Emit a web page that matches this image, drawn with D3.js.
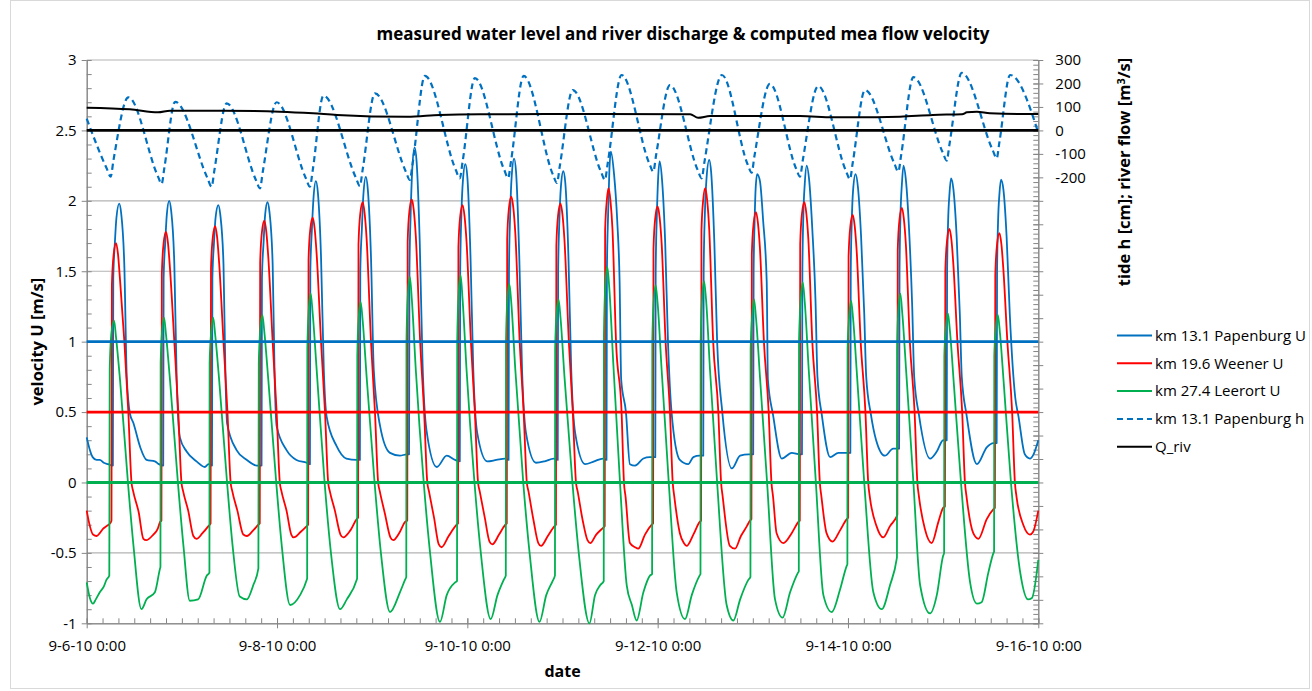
<!DOCTYPE html>
<html>
<head>
<meta charset="utf-8">
<script src="https://cdn.jsdelivr.net/npm/d3@7"></script>
<style>
  body { margin: 0; background: #fff; }
  text { font-family: "Open Sans", sans-serif; fill: #000; }
</style>
</head>
<body>
<svg id="chart" width="1312" height="691"></svg>
<script>
// time axis: hours after 9-6-10 0:00
const startDate = Date.UTC(2010, 8, 6);
const dateTicks = [0, 48, 96, 144, 192, 240];
const leftTicks = [-1, -0.5, 0, 0.5, 1, 1.5, 2, 2.5, 3];
const rightTicks = [-200, -100, 0, 100, 200, 300];
const seriesNames = ['km 13.1 Papenburg U', 'km 19.6 Weener U', 'km 27.4 Leerort U', 'km 13.1 Papenburg h', 'Q_riv'];

// reference levels drawn across the plot
const papRef = 1, weenRef = 0.5, leerRef = 0, qRef = 0;

// velocity U [m/s], [hour, value]
const papU = [
  [0,0.32],[0.8,0.23],[1.5,0.18],[2.5,0.16],[3.3,0.16],[4.3,0.14],[5.4,0.13],[6.6,0.12],
  [6.7,1.45],[7.1,1.7],[7.5,1.88],[8.2,1.98],[8.7,1.91],[9.5,1.53],[10.1,0.75],[10.9,0.49],[11.8,0.42],[13.5,0.25],[15.1,0.16],[17.2,0.15],[18.2,0.13],[19.3,0.12],
  [19.4,1.45],[19.8,1.7],[20.2,1.9],[20.8,2.0],[21.3,1.93],[22.1,1.55],[22.7,0.73],[23.5,0.32],[25.2,0.22],[27.7,0.15],[29.8,0.11],[30.7,0.13],[31.6,0.12],
  [31.7,1.45],[32.1,1.7],[32.5,1.88],[33.2,1.97],[33.7,1.9],[34.5,1.55],[35.0,0.75],[35.4,0.42],[37.8,0.23],[40.4,0.16],[42.9,0.12],[44.1,0.12],
  [44.2,1.45],[44.6,1.7],[45.0,1.9],[45.6,1.99],[46.1,1.92],[46.9,1.55],[47.4,0.75],[47.9,0.4],[50.4,0.23],[52.9,0.16],[55.5,0.14],[56.3,0.13],
  [56.4,1.5],[56.8,1.8],[57.2,2.02],[57.8,2.14],[58.3,2.06],[59.1,1.6],[59.8,0.8],[60.5,0.47],[63.0,0.26],[65.5,0.17],[68.1,0.16],[68.9,0.16],
  [69.0,1.5],[69.4,1.8],[69.8,2.05],[70.4,2.17],[70.9,2.08],[71.7,1.6],[72.4,0.8],[74.0,0.4],[76.5,0.21],[79.0,0.19],[80.7,0.2],[81.3,0.2],
  [81.4,1.5],[81.7,1.9],[82.1,2.22],[82.7,2.38],[83.2,2.28],[84.0,1.7],[84.7,0.85],[85.7,0.37],[88.3,0.11],[90.8,0.19],[92.9,0.16],[94.1,0.15],
  [94.2,1.5],[94.5,1.9],[94.9,2.15],[95.5,2.26],[96.0,2.17],[96.8,1.6],[97.5,0.8],[98.5,0.35],[101.0,0.15],[103.3,0.16],[105.5,0.17],[106.4,0.16],
  [106.5,1.5],[106.8,1.9],[107.2,2.18],[107.8,2.3],[108.3,2.2],[109.1,1.6],[109.8,0.8],[110.8,0.35],[113.3,0.14],[115.5,0.15],[117.8,0.17],[118.8,0.16],
  [118.9,1.5],[119.2,1.85],[119.6,2.1],[120.2,2.21],[120.7,2.13],[121.5,1.6],[122.2,0.8],[123.2,0.35],[125.7,0.13],[128.0,0.15],[130.2,0.17],[131.1,0.16],
  [131.2,1.5],[131.5,1.9],[131.8,2.2],[132.2,2.35],[133.0,2.19],[133.8,1.86],[134.4,1.43],[134.8,0.73],[136.0,0.5],[137.0,0.13],[138.3,0.12],[140.4,0.17],[142.0,0.18],[143.4,0.18],
  [143.5,1.5],[143.8,1.9],[144.1,2.15],[144.5,2.28],[145.1,2.15],[145.9,1.7],[146.6,1.0],[147.5,0.5],[149.6,0.16],[151.7,0.13],[153.0,0.18],[154.6,0.19],[155.5,0.19],
  [155.6,1.5],[155.9,1.9],[156.3,2.15],[157.0,2.29],[157.5,2.2],[158.3,1.7],[159.0,1.0],[160.3,0.5],[162.7,0.1],[164.8,0.19],[166.9,0.2],[168.1,0.2],
  [168.2,1.5],[168.45,1.85],[168.7,2.08],[169.1,2.19],[169.8,2.14],[170.6,1.86],[171.5,1.43],[171.8,0.73],[173.1,0.48],[175.3,0.17],[177.8,0.21],[179.9,0.2],[180.4,0.2],
  [180.5,1.5],[180.75,1.9],[181.1,2.12],[181.6,2.25],[182.2,2.15],[183.0,1.8],[183.8,1.3],[184.3,0.75],[185.4,0.48],[187.5,0.18],[189.6,0.21],[191.7,0.21],[192.6,0.21],
  [192.7,1.5],[192.95,1.85],[193.3,2.08],[193.9,2.19],[194.5,2.1],[195.3,1.75],[196.1,1.2],[196.6,0.75],[197.8,0.48],[199.1,0.3],[201.3,0.19],[203.4,0.24],[204.9,0.24],
  [205.0,1.5],[205.25,1.9],[205.6,2.12],[206.0,2.25],[206.6,2.15],[207.4,1.8],[208.2,1.25],[208.7,0.75],[209.9,0.48],[212.7,0.17],[214.4,0.22],[216.0,0.3],[216.9,0.3],
  [217.0,1.5],[217.25,1.85],[217.6,2.05],[218.0,2.16],[218.6,2.08],[219.4,1.75],[220.2,1.2],[220.7,0.75],[221.9,0.48],[224.5,0.13],[227.0,0.25],[228.7,0.28],[229.5,0.28],
  [229.6,1.5],[229.85,1.85],[230.2,2.05],[230.6,2.15],[231.2,2.08],[232.0,1.75],[232.8,1.2],[234.2,0.6],[235.0,0.47],[236.6,0.2],[237.9,0.17],[238.8,0.2],[240,0.3]
];

const weenU = [
  [0,-0.2],[0.8,-0.31],[1.6,-0.37],[2.5,-0.38],[3.3,-0.36],[4.1,-0.33],[5.0,-0.31],[5.9,-0.29],[6.25,-0.27],
  [6.35,1.4],[6.8,1.62],[7.4,1.7],[7.9,1.62],[8.4,1.44],[9.5,1.0],[10.5,0.5],[11.3,0.0],[11.7,-0.06],[13.1,-0.21],[14.3,-0.4],[15.0,-0.41],[16.8,-0.37],[17.9,-0.33],[18.5,-0.28],[18.85,-0.27],
  [18.95,1.48],[19.4,1.7],[20.0,1.78],[20.5,1.7],[21.0,1.52],[22.1,1.0],[23.1,0.5],[23.9,0.0],[24.3,-0.06],[25.6,-0.2],[26.9,-0.38],[27.7,-0.4],[29.2,-0.36],[30.7,-0.31],[31.25,-0.29],
  [31.35,1.52],[31.8,1.74],[32.4,1.82],[32.9,1.74],[33.4,1.56],[34.5,1.0],[35.5,0.5],[36.3,0.0],[36.7,-0.06],[38.0,-0.2],[39.5,-0.37],[40.4,-0.38],[42.0,-0.34],[43.3,-0.3],[43.65,-0.29],
  [43.75,1.56],[44.2,1.78],[44.8,1.86],[45.3,1.78],[45.8,1.6],[46.9,1.0],[47.9,0.5],[48.7,0.0],[49.1,-0.06],[50.4,-0.2],[51.6,-0.37],[52.2,-0.39],[54.0,-0.35],[55.5,-0.31],[55.85,-0.3],
  [55.95,1.58],[56.4,1.8],[57.0,1.88],[57.5,1.8],[58.0,1.62],[59.1,1.0],[60.1,0.5],[60.9,0.0],[61.3,-0.06],[62.6,-0.2],[64.0,-0.37],[64.7,-0.39],[66.5,-0.34],[68.1,-0.26],[68.45,-0.25],
  [68.55,1.69],[69.0,1.91],[69.6,1.99],[70.1,1.91],[70.6,1.73],[71.7,1.0],[72.7,0.5],[73.5,0.0],[73.9,-0.06],[75.2,-0.22],[76.6,-0.39],[77.3,-0.41],[79.0,-0.35],[80.3,-0.28],[80.85,-0.27],
  [80.95,1.71],[81.4,1.93],[82.0,2.01],[82.5,1.93],[83.0,1.75],[84.1,1.0],[85.1,0.5],[85.9,0.0],[86.3,-0.06],[87.6,-0.25],[88.8,-0.44],[89.5,-0.46],[91.3,-0.38],[93.3,-0.3],[93.65,-0.29],
  [93.75,1.67],[94.2,1.89],[94.8,1.97],[95.3,1.89],[95.8,1.71],[96.9,1.0],[97.9,0.5],[98.7,0.0],[99.1,-0.06],[100.4,-0.25],[101.6,-0.42],[102.3,-0.44],[104.0,-0.37],[105.6,-0.3],[105.95,-0.29],
  [106.05,1.73],[106.5,1.95],[107.1,2.03],[107.6,1.95],[108.1,1.77],[109.2,1.0],[110.2,0.5],[111.0,0.0],[111.4,-0.06],[112.7,-0.27],[113.9,-0.43],[114.6,-0.45],[116.3,-0.38],[118.0,-0.31],[118.35,-0.3],
  [118.45,1.68],[118.9,1.9],[119.5,1.98],[120.0,1.9],[120.5,1.72],[121.6,1.0],[122.6,0.5],[123.4,0.0],[123.8,-0.06],[125.1,-0.27],[126.3,-0.41],[127.0,-0.43],[128.5,-0.37],[130.3,-0.32],[130.65,-0.31],
  [130.75,1.79],[131.2,2.01],[131.6,2.09],[132.1,2.0],[132.6,1.8],[133.5,1.0],[134.9,0.5],[135.5,0.0],[135.9,-0.1],[137.0,-0.43],[138.3,-0.46],[139.1,-0.47],[140.8,-0.37],[142.5,-0.3],[142.85,-0.29],
  [142.95,1.66],[143.4,1.88],[144.0,1.96],[144.5,1.88],[145.0,1.7],[146.0,1.0],[147.1,0.5],[147.8,0.0],[148.2,-0.1],[149.6,-0.36],[150.6,-0.43],[151.3,-0.45],[153.0,-0.37],[154.6,-0.28],[154.95,-0.27],
  [155.05,1.79],[155.5,2.01],[156.0,2.09],[156.5,2.0],[157.0,1.8],[158.0,1.0],[159.3,0.5],[160.0,0.0],[160.4,-0.1],[162.2,-0.45],[163.5,-0.47],[165.0,-0.38],[166.5,-0.31],[167.3,-0.27],[167.65,-0.26],
  [167.75,1.62],[168.2,1.84],[168.8,1.92],[169.3,1.84],[169.8,1.66],[170.8,1.0],[172.0,0.5],[172.7,0.0],[173.1,-0.1],[174.0,-0.36],[175.7,-0.43],[177.8,-0.36],[179.5,-0.28],[179.85,-0.27],
  [179.95,1.69],[180.4,1.91],[181.0,1.99],[181.5,1.91],[182.0,1.73],[183.0,1.0],[184.2,0.5],[184.9,0.0],[185.3,-0.1],[186.6,-0.36],[188.1,-0.42],[190.0,-0.34],[191.7,-0.26],[192.05,-0.25],
  [192.15,1.6],[192.6,1.82],[193.2,1.9],[193.7,1.82],[194.2,1.64],[195.2,1.0],[196.4,0.5],[197.1,0.0],[197.5,-0.1],[199.2,-0.31],[200.9,-0.39],[202.6,-0.31],[204.3,-0.24],[204.45,-0.23],
  [204.55,1.65],[205.0,1.87],[205.6,1.95],[206.1,1.87],[206.6,1.69],[207.6,1.0],[208.8,0.5],[209.5,0.0],[209.9,-0.1],[211.4,-0.33],[213.1,-0.43],[214.8,-0.28],[216.0,-0.18],[216.45,-0.17],
  [216.55,1.5],[217.0,1.72],[217.6,1.8],[218.1,1.72],[218.6,1.54],[219.6,1.0],[220.8,0.5],[221.5,0.0],[221.9,-0.1],[223.6,-0.36],[224.9,-0.4],[227.0,-0.26],[228.7,-0.19],[229.05,-0.18],
  [229.15,1.47],[229.6,1.69],[230.2,1.77],[230.7,1.69],[231.2,1.51],[232.2,1.0],[233.4,0.5],[234.1,0.0],[234.5,-0.1],[236.2,-0.3],[237.9,-0.37],[238.7,-0.35],[240,-0.2]
];

const leerU = [
  [0,-0.71],[0.8,-0.82],[1.6,-0.86],[2.3,-0.83],[3.3,-0.78],[4.3,-0.74],[5.0,-0.69],[5.7,-0.66],
  [5.8,0.8],[6.2,1.05],[6.9,1.15],[7.4,1.03],[8.4,0.73],[10.4,0.0],[11.8,-0.45],[13.8,-0.9],[15.1,-0.83],[17.2,-0.78],[18.5,-0.61],[18.6,-0.6],
  [18.65,0.85],[19.0,1.07],[19.5,1.17],[20.0,1.05],[21.0,0.73],[23.0,0.0],[24.4,-0.45],[26.0,-0.84],[28.1,-0.83],[30.3,-0.66],[30.95,-0.64],
  [31.0,0.85],[31.4,1.07],[31.9,1.17],[32.4,1.05],[33.4,0.73],[35.4,0.0],[36.8,-0.45],[38.6,-0.81],[40.4,-0.83],[42.0,-0.73],[43.3,-0.61],
  [43.4,0.85],[43.8,1.09],[44.3,1.19],[44.8,1.07],[45.8,0.73],[47.8,0.0],[49.2,-0.45],[51.3,-0.87],[53.8,-0.8],[55.5,-0.69],[55.6,-0.68],
  [55.65,0.95],[56.0,1.22],[56.5,1.34],[57.0,1.2],[58.0,0.8],[60.0,0.0],[61.6,-0.5],[63.9,-0.9],[65.6,-0.83],[68.1,-0.69],[68.2,-0.68],
  [68.25,0.9],[68.6,1.17],[69.1,1.28],[69.6,1.15],[70.6,0.75],[72.6,0.0],[74.2,-0.5],[76.5,-0.92],[79.0,-0.78],[80.3,-0.69],[80.6,-0.67],
  [80.65,1.0],[81.0,1.33],[81.5,1.46],[82.0,1.3],[83.0,0.8],[85.0,0.0],[86.6,-0.5],[89.1,-0.99],[90.8,-0.8],[92.9,-0.71],[93.4,-0.7],
  [93.45,1.0],[93.8,1.34],[94.3,1.47],[94.8,1.3],[95.8,0.8],[97.8,0.0],[99.4,-0.5],[101.9,-0.97],[103.6,-0.8],[105.2,-0.69],[105.7,-0.66],
  [105.75,1.0],[106.1,1.3],[106.6,1.41],[107.1,1.27],[108.1,0.8],[110.1,0.0],[111.7,-0.5],[114.2,-0.99],[115.9,-0.8],[117.5,-0.7],[118.1,-0.66],
  [118.15,0.95],[118.5,1.2],[119.0,1.3],[119.5,1.17],[120.5,0.75],[122.5,0.0],[124.1,-0.5],[126.8,-1.0],[128.2,-0.8],[129.5,-0.73],[130.4,-0.7],
  [130.45,1.05],[130.8,1.4],[131.3,1.53],[131.8,1.38],[132.8,0.85],[134.5,0.0],[136.2,-0.73],[137.5,-0.87],[138.7,-0.98],[140.4,-0.78],[142.1,-0.66],[142.6,-0.65],
  [142.65,1.0],[143.0,1.28],[143.5,1.4],[144.0,1.27],[145.0,0.8],[146.8,0.0],[148.8,-0.78],[150.9,-0.97],[152.6,-0.8],[154.6,-0.66],[154.8,-0.65],
  [154.85,1.0],[155.2,1.3],[155.7,1.43],[156.2,1.3],[157.2,0.8],[159.0,0.0],[161.4,-0.87],[163.1,-0.98],[164.8,-0.83],[166.9,-0.69],[167.4,-0.67],
  [167.45,0.95],[167.9,1.2],[168.3,1.3],[168.8,1.17],[169.8,0.75],[171.6,0.0],[173.6,-0.83],[175.5,-0.96],[177.4,-0.78],[179.4,-0.64],[179.6,-0.63],
  [179.65,1.0],[180.1,1.3],[180.6,1.42],[181.1,1.28],[182.1,0.8],[183.9,0.0],[185.8,-0.8],[187.9,-0.92],[190.0,-0.76],[191.7,-0.59],[191.85,-0.58],
  [191.9,0.95],[192.3,1.18],[192.8,1.29],[193.3,1.16],[194.3,0.75],[196.1,0.0],[198.4,-0.78],[200.5,-0.9],[202.6,-0.73],[204.3,-0.54],[204.35,-0.53],
  [204.4,0.95],[204.7,1.22],[205.2,1.34],[205.7,1.2],[206.7,0.78],[208.5,0.0],[210.2,-0.73],[212.7,-0.93],[214.4,-0.8],[216.0,-0.52],[216.25,-0.5],
  [216.3,0.9],[216.7,1.1],[217.2,1.2],[217.7,1.08],[218.7,0.7],[220.5,0.0],[222.8,-0.71],[224.5,-0.86],[225.7,-0.85],[227.4,-0.64],[228.7,-0.5],[228.85,-0.49],
  [228.9,0.9],[229.3,1.1],[229.8,1.19],[230.3,1.07],[231.3,0.7],[233.1,0.0],[235.5,-0.65],[237.4,-0.83],[238.4,-0.82],[240,-0.55]
];

// tide h [cm] at Papenburg, [hour, value] around each turning point
const papH = [
  [0,50],[5.05,-162],[6.05,-197],[6.75,-127],[10.5,141],
  [17.9,-193],[18.9,-228],[19.6,-158],[22.3,122],
  [30.5,-205],[31.5,-240],[32.2,-170],[35.3,115],
  [42.7,-212],[43.7,-247],[44.4,-177],[47.9,120],
  [55.3,-205],[56.3,-240],[57.0,-170],[59.7,148],
  [67.9,-202],[68.9,-237],[69.6,-167],[72.7,158],
  [80.5,-176],[81.5,-211],[82.2,-141],[85.3,232],
  [93.1,-169],[94.1,-204],[94.8,-134],[97.9,223],
  [105.3,-168],[106.3,-203],[107.0,-133],[110.2,232],
  [117.6,-189],[118.6,-224],[119.3,-154],[122.6,172],
  [129.7,-176],[130.7,-211],[131.4,-141],[134.9,236],
  [141.9,-141],[142.9,-176],[143.6,-106],[147.1,193],
  [154.1,-169],[155.1,-204],[155.8,-134],[160.2,236],
  [166.7,-145],[167.7,-180],[168.4,-110],[172.3,198],
  [178.9,-162],[179.9,-197],[180.6,-127],[184.5,189],
  [191.5,-173],[192.5,-208],[193.2,-138],[196.3,172],
  [203.7,-141],[204.7,-176],[205.4,-106],[208.5,227],
  [215.9,-94],[216.9,-129],[217.6,-59],[220.7,245],
  [228.5,-84],[229.5,-119],[230.2,-49],[232.9,236],[240,-10]
];

// river discharge [m3/s]
const qRiv = [
  [0,97],[10.9,90],[18.0,77],[21.0,84],[34.4,84],[48.7,80],[57.1,73],[63.1,66],[80.8,58],[89.1,66],
  [99.2,69],[129.5,70],[152.2,69],[154.2,54],[157.2,61],[179.9,61],[188.2,56],[199.3,56],[205.1,58],
  [213.4,66],[220.8,69],[222.0,77],[224.5,80],[227.8,73],[235.4,70],[240,70]
];

const blue = '#0070c0', red = '#ff0000', green = '#00b050';

const svg = d3.select('#chart');
svg.append('rect').attr('width', 1312).attr('height', 691).attr('fill', '#fff');
svg.append('rect')
  .attr('x', 10.5).attr('y', 0.5).attr('width', 1299).attr('height', 688)
  .attr('fill', 'none').attr('stroke', '#d9d9d9');

const hour = h => new Date(startDate + h * 3600e3);
const x = d3.scaleUtc().domain([hour(0), hour(240)]).range([86.7, 1038.3]);
const yL = d3.scaleLinear().domain([-1, 3]).range([623.3, 60]);
const yR = d3.scaleLinear().domain([-2100, 300]).range([623.3, 60]);
const fmtDate = d3.utcFormat('%-m-%-d-%y %-H:%M');

// gridlines
svg.append('g').selectAll('line')
  .data(leftTicks.filter(v => v > -1))
  .enter().append('line')
  .attr('x1', 86.7).attr('x2', 1038.3)
  .attr('y1', d => yL(d)).attr('y2', d => yL(d))
  .attr('stroke', '#b3b3b3').attr('stroke-width', 1.2);

// axes
const axisColor = '#868686';
const styleAxis = g => {
  g.select('.domain').attr('stroke', axisColor);
  g.selectAll('line').attr('stroke', axisColor);
  g.selectAll('text').attr('font-size', 15).attr('fill', '#000')
    .attr('font-family', '"Open Sans", sans-serif');
};

svg.append('g')
  .attr('transform', 'translate(86.7,0)')
  .call(d3.axisLeft(yL).tickValues(d3.range(-1, 3.001, 0.1)).tickSize(-5).tickSizeOuter(0).tickFormat(''))
  .call(styleAxis);
svg.append('g')
  .attr('transform', 'translate(86.7,0)')
  .call(d3.axisLeft(yL).tickValues(leftTicks).tickSize(5).tickSizeOuter(0).tickPadding(5).tickFormat(d => String(d)))
  .call(styleAxis);

svg.append('g')
  .attr('transform', 'translate(0,623.3)')
  .call(d3.axisBottom(x).ticks(d3.utcHour.every(4)).tickSize(-5).tickSizeOuter(0).tickFormat(''))
  .call(styleAxis);
svg.append('g')
  .attr('transform', 'translate(0,623.3)')
  .call(d3.axisBottom(x).tickValues(dateTicks.map(hour)).tickSize(5).tickSizeOuter(0).tickPadding(12).tickFormat(fmtDate))
  .call(styleAxis)
  .call(g => g.selectAll('.tick line').attr('y1', -5));

svg.append('g')
  .attr('transform', 'translate(1038.3,0)')
  .call(d3.axisRight(yR).tickValues(d3.range(-2100, 301, 20)).tickSize(-5).tickSizeOuter(0).tickFormat(''))
  .call(styleAxis);
svg.append('g')
  .attr('transform', 'translate(1038.3,0)')
  .call(d3.axisRight(yR).tickValues(d3.range(-2100, 301, 100)).tickSize(5).tickSizeOuter(0).tickPadding(12)
    .tickFormat(d => rightTicks.includes(d) ? String(d) : ''))
  .call(styleAxis)
  .call(g => g.selectAll('.tick line').attr('x1', -5));

// series
const lineL = d3.line().x(d => x(hour(d[0]))).y(d => yL(d[1])).curve(d3.curveMonotoneX);
const lineR = d3.line().x(d => x(hour(d[0]))).y(d => yR(d[1])).curve(d3.curveMonotoneX);

const plot = svg.append('g').attr('fill', 'none').attr('stroke-linejoin', 'round');
plot.append('path').attr('d', lineL(papU)).attr('stroke', blue).attr('stroke-width', 1.8);
plot.append('path').attr('d', lineL(weenU)).attr('stroke', red).attr('stroke-width', 1.8);
plot.append('path').attr('d', lineL(leerU)).attr('stroke', green).attr('stroke-width', 1.8);
plot.append('path').attr('d', lineR(papH)).attr('stroke', blue).attr('stroke-width', 2.2).attr('stroke-dasharray', '6,4');
plot.append('path').attr('d', lineR(qRiv)).attr('stroke', '#000').attr('stroke-width', 2);

// reference levels
[[yL(papRef), blue], [yL(weenRef), red], [yL(leerRef), green], [yR(qRef), '#000']].forEach(([yy, c]) => {
  plot.append('line').attr('x1', 86.7).attr('x2', 1038.3).attr('y1', yy).attr('y2', yy)
    .attr('stroke', c).attr('stroke-width', 2.8);
});

// titles
svg.append('text').attr('x', 683).attr('y', 40).attr('text-anchor', 'middle')
  .attr('font-size', 17).attr('font-weight', 'bold')
  .text('measured water level and river discharge & computed mea flow velocity');
svg.append('text').attr('x', 562.5).attr('y', 677).attr('text-anchor', 'middle')
  .attr('font-size', 16).attr('font-weight', 'bold').text('date');
svg.append('text').attr('transform', 'translate(43,341.7) rotate(-90)').attr('text-anchor', 'middle')
  .attr('font-size', 16.5).attr('font-weight', 'bold').text('velocity U [m/s]');
const rt = svg.append('text').attr('transform', 'translate(1130,172) rotate(-90)').attr('text-anchor', 'middle')
  .attr('font-size', 16.5).attr('font-weight', 'bold');
rt.append('tspan').text('tide h [cm]; river flow [m');
rt.append('tspan').attr('dy', -5).attr('font-size', 11).text('3');
rt.append('tspan').attr('dy', 5).text('/s]');

// legend
const legendStyles = [
  {stroke: blue, dash: null},
  {stroke: red, dash: null},
  {stroke: green, dash: null},
  {stroke: blue, dash: '6,4'},
  {stroke: '#000', dash: null}
];
const legend = svg.append('g').selectAll('g')
  .data(seriesNames)
  .enter().append('g')
  .attr('transform', (d, i) => 'translate(1117,' + (335.5 + i * 27.8) + ')');
legend.append('line').attr('x1', 0).attr('x2', 35)
  .attr('stroke', (d, i) => legendStyles[i].stroke)
  .attr('stroke-width', 2)
  .attr('stroke-dasharray', (d, i) => legendStyles[i].dash);
legend.append('text').attr('x', 38).attr('dy', '0.35em').attr('font-size', 15).text(d => d);
</script>
</body>
</html>
